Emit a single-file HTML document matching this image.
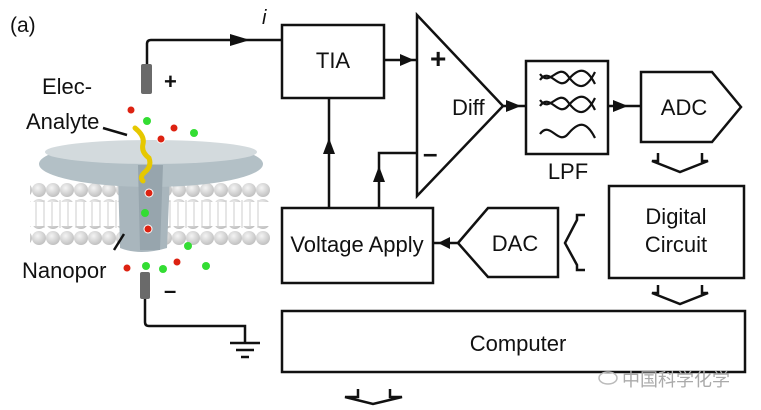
<!DOCTYPE html>
<html><head><meta charset="utf-8"><style>
html,body{margin:0;padding:0;background:#fff}
svg{display:block}
text{font-family:"Liberation Sans",Arial,sans-serif;fill:#111}
</style></head><body>
<svg width="761" height="410" viewBox="0 0 761 410" xmlns="http://www.w3.org/2000/svg">
<defs>
<radialGradient id="ball" cx="0.4" cy="0.35" r="0.7"><stop offset="0" stop-color="#f4f4f4"/><stop offset="1" stop-color="#bdbdbd"/></radialGradient>
<pattern id="lipT" x="32" y="182" width="14" height="16" patternUnits="userSpaceOnUse"><circle cx="7" cy="8" r="7" fill="url(#ball)"/></pattern>
</defs>
<text x="10" y="32" font-size="21">(a)</text>
<text x="262" y="24" font-size="20" font-style="italic">i</text>
<path d="M147 66 V44 q0-4 4-4 H282" fill="none" stroke="#111" stroke-width="2.5"/>
<polygon points="230,34 250,40 230,46" fill="#111"/>
<path d="M145 298 V322 q0 4 4 4 H245 V342" fill="none" stroke="#111" stroke-width="2.5"/>
<line x1="230" y1="343" x2="260" y2="343" stroke="#111" stroke-width="2.5"/>
<line x1="236" y1="350" x2="254" y2="350" stroke="#111" stroke-width="2.5"/>
<line x1="241" y1="357" x2="249" y2="357" stroke="#111" stroke-width="2.5"/>
<rect x="141" y="64" width="11" height="30" rx="2" fill="#6a6a6a"/>
<rect x="140" y="272" width="10" height="27" rx="2" fill="#6a6a6a"/>
<text x="164" y="89" font-size="22" font-weight="bold">+</text>
<text x="164" y="298" font-size="22" font-weight="bold">–</text>
<g stroke="#ddd" stroke-width="1.5">
<path d="M36 200 V228 M44 200 V228 M52 200 V228 M60 200 V228 M68 200 V228 M76 200 V228 M84 200 V228 M92 200 V228 M100 200 V228 M108 200 V228 M116 200 V228 M170 200 V228 M178 200 V228 M186 200 V228 M194 200 V228 M202 200 V228 M210 200 V228 M218 200 V228 M226 200 V228 M234 200 V228 M242 200 V228 M250 200 V228 M258 200 V228"/>
</g>
<rect x="30" y="182" width="240" height="20" fill="url(#lipT)"/>
<rect x="30" y="226" width="240" height="20" fill="url(#lipT)"/>
<path d="M118 175 L120 248 Q140 256 167 248 L170 175 Z" fill="#a9b6bd"/>
<ellipse cx="151" cy="164" rx="112" ry="23" fill="#b3c0c6"/>
<ellipse cx="151" cy="152" rx="106" ry="12" fill="#d3dadd"/>
<path d="M138 165 L140 250 L160 250 L163 165 Z" fill="#97a5ad"/>
<path d="M135 128 q10 8 8 16 q-2 8 6 14 q3 8 -4 14 q-6 5 -2 9" fill="none" stroke="#e6c800" stroke-width="5" stroke-linecap="round"/>
<g fill="#d21" stroke="#fff" stroke-width="1">
<circle cx="131" cy="110" r="4"/><circle cx="174" cy="128" r="4"/><circle cx="161" cy="139" r="4"/><circle cx="149" cy="193" r="4"/><circle cx="148" cy="229" r="4"/><circle cx="127" cy="268" r="4"/><circle cx="177" cy="262" r="4"/>
</g>
<g fill="#3d3"><circle cx="147" cy="121" r="4"/><circle cx="194" cy="133" r="4"/><circle cx="145" cy="213" r="4"/><circle cx="188" cy="246" r="4"/><circle cx="146" cy="266" r="4"/><circle cx="163" cy="269" r="4"/><circle cx="206" cy="266" r="4"/></g>
<text x="42" y="94" font-size="22">Elec-</text>
<text x="26" y="129" font-size="22">Analyte</text>
<line x1="103" y1="128" x2="127" y2="135" stroke="#111" stroke-width="2.5"/>
<text x="22" y="278" font-size="22">Nanopor</text>
<line x1="114" y1="250" x2="124" y2="234" stroke="#111" stroke-width="2.5"/>
<g fill="none" stroke="#111" stroke-width="2.5">
<rect x="282" y="25" width="102" height="73"/>
<polygon points="417,15 503,106 417,196"/>
<rect x="526" y="61" width="82" height="93"/>
<polygon points="641,72 712,72 741,107 712,142 641,142"/>
<rect x="609" y="186" width="135" height="92"/>
<polygon points="458,243 488,208 558,208 558,277 488,277"/>
<rect x="282" y="208" width="151" height="75"/>
<rect x="282" y="311" width="463" height="61"/>
<path d="M384 60 H417 M503 106 H526 M608 106 H641 M458 243 H433 M329 208 V98 M379 208 V153 H417"/>
<path d="M658 153 V161 H652 L680 172 L708 161 H702 V153"/>
<path d="M658 285 V293 H652 L680 304 L708 293 H702 V285"/>
<path d="M358 389 V397 H345 L373 404 L402 397 H390 V389"/>
<path d="M585 215 H577 V220 L565 243 L577 265 V270 H585"/>
<g stroke-width="2.2">
<path d="M540 80 C550 66 558 92 568 80 S586 66 595 84"/>
<path d="M540 74 C550 88 558 62 568 76 S586 90 595 72"/>
<path d="M540 106 C550 92 558 118 568 106 S586 92 595 110"/>
<path d="M540 100 C550 114 558 88 568 102 S586 116 595 98"/>
<path d="M540 134 C550 120 558 146 568 134 S586 120 595 138"/>
</g>
</g>
<g fill="#111">
<polygon points="400,54 414,60 400,66"/>
<polygon points="506,100 521,106 506,112"/>
<polygon points="613,100 628,106 613,112"/>
<polygon points="450,237 438,243 450,249"/>
<polygon points="323,154 329,138 335,154"/>
<polygon points="373,182 379,166 385,182"/>
</g>
<text x="430" y="68" font-size="28" font-weight="bold">+</text>
<text x="423" y="162" font-size="26" font-weight="bold">–</text>
<text x="333" y="68" font-size="22" text-anchor="middle">TIA</text>
<text x="452" y="115" font-size="22">Diff</text>
<text x="568" y="179" font-size="22" text-anchor="middle">LPF</text>
<text x="684" y="115" font-size="22" text-anchor="middle">ADC</text>
<text x="676" y="224" font-size="22" text-anchor="middle">Digital</text>
<text x="676" y="252" font-size="22" text-anchor="middle">Circuit</text>
<text x="515" y="251" font-size="22" text-anchor="middle">DAC</text>
<text x="357" y="252" font-size="22" text-anchor="middle">Voltage Apply</text>
<text x="518" y="351" font-size="22" text-anchor="middle">Computer</text>
<text x="622" y="386" font-size="18" style="fill:#aaa;font-family:'Noto Sans CJK SC',sans-serif">中国科学化学</text>
<ellipse cx="608" cy="378" rx="9" ry="6" fill="none" stroke="#bbb" stroke-width="1.5"/>
</svg>
</body></html>
